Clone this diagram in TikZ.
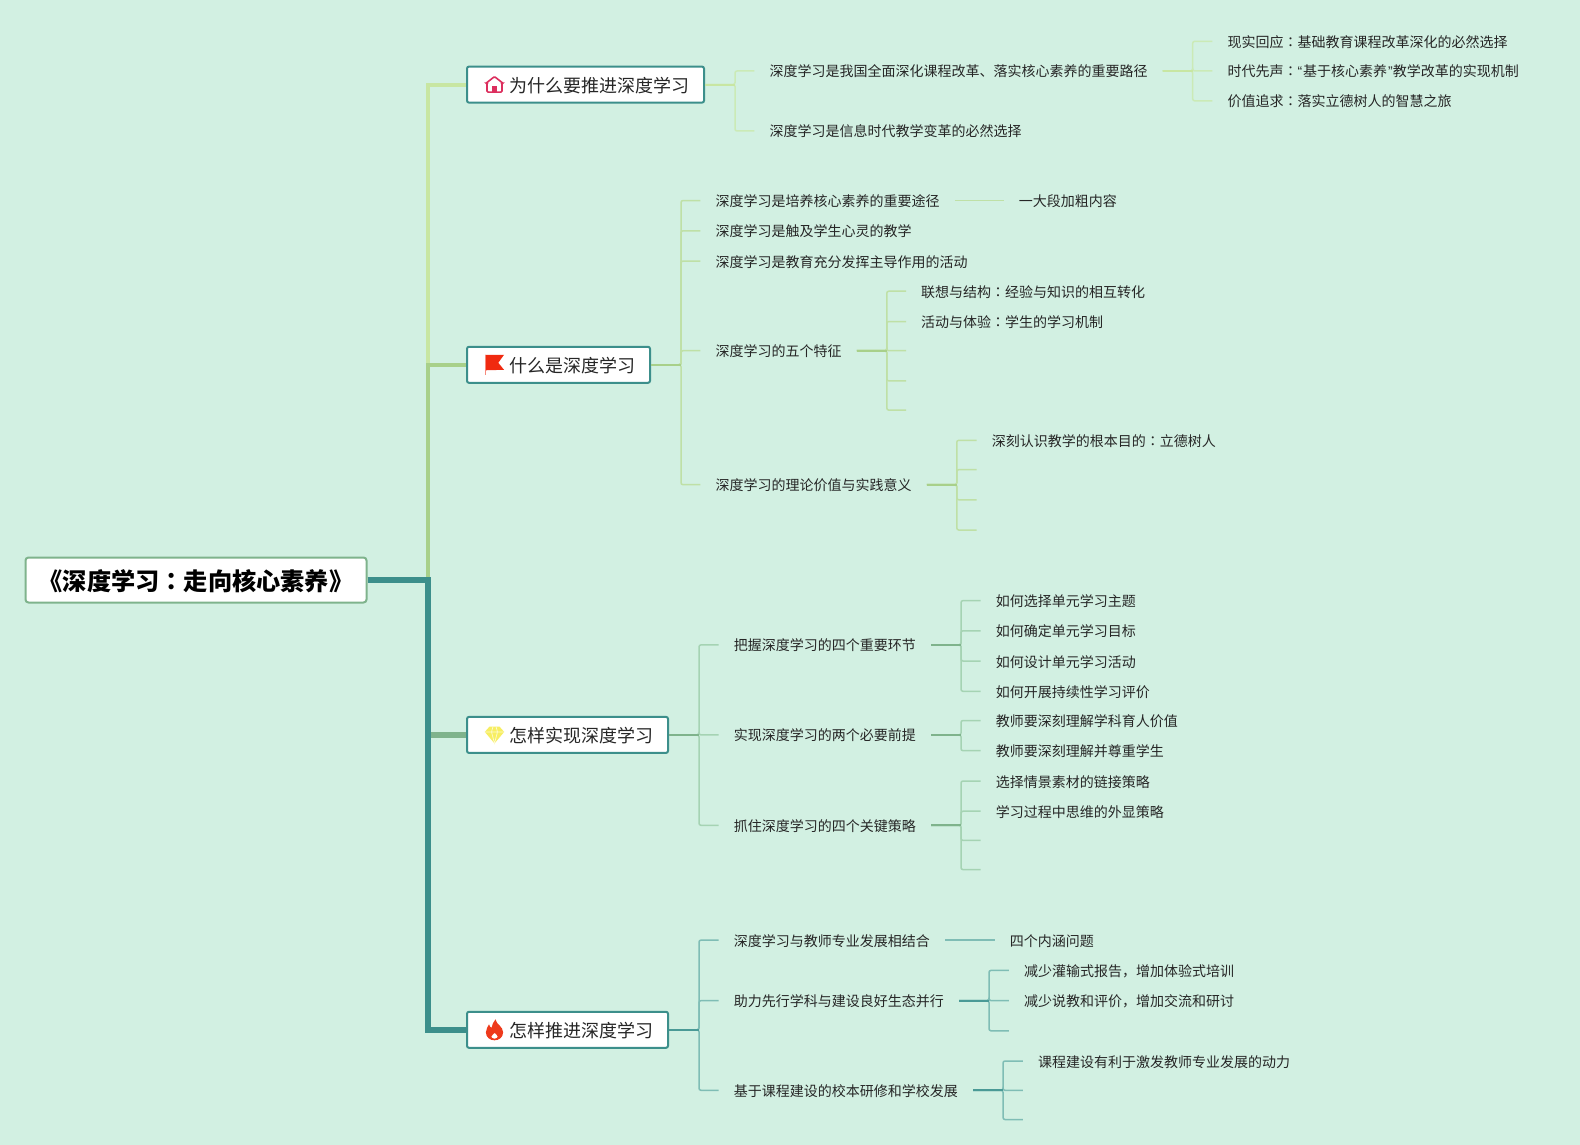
\documentclass[tikz,border=0pt]{standalone}
\usepackage{fontspec}
\setmainfont{Noto Sans CJK SC}
\newfontfamily\tcfont{Noto Sans CJK TC}
\newfontfamily\quotefont{Liberation Sans}
\newcommand{\cn}{{\tcfont ：}}
\newcommand{\openq}{{\quotefont “}\hspace{1pt}}
\newcommand{\closeq}{\hspace{1pt}{\quotefont ”}}

\definecolor{paper}{HTML}{D2F0E2}
\definecolor{ink}{HTML}{262626}
\definecolor{teal}{HTML}{3C8F8B}
\definecolor{whystem}{HTML}{C8E6A2}
\definecolor{whykid}{HTML}{CBEAB6}
\definecolor{whatstem}{HTML}{A8D08A}
\definecolor{whatkid}{HTML}{BFE0A6}
\definecolor{howstem}{HTML}{7FB38C}
\definecolor{howkid}{HTML}{A5D3B3}
\definecolor{pushstem}{HTML}{4A9A96}
\definecolor{pushkid}{HTML}{7FBDB5}
\definecolor{homepink}{HTML}{DC2F5E}
\definecolor{flagred}{HTML}{F02A10}
\definecolor{gemyellow}{HTML}{F7EE62}
\definecolor{fireorange}{HTML}{EE3A1C}

\tikzset{
    leaf/.style={anchor=west, text=ink, inner xsep=15pt, inner ysep=0pt,
        text height=13pt, text depth=1pt, font=\fontsize{14}{16}\selectfont},
    topic/.style={anchor=west, draw=teal, fill=white, line width=2pt, rounded corners=2pt,
        text=ink, inner xsep=14.5pt, inner ysep=0pt, minimum height=36pt,
        text height=16.5pt, text depth=0.5pt, font=\fontsize{18}{20}\selectfont,
        execute at begin node={\hspace*{28pt}}},
    book/.style={anchor=center, draw=howstem, fill=white, line width=2pt, rounded corners=3pt,
        text=black, minimum width=341pt, minimum height=45pt, inner sep=0pt,
        text height=21pt, text depth=1pt, font=\fontsize{24.2}{28}\selectfont\bfseries},
    trunk/.style={line width=#1, line join=miter},
    twig/.style={line width=1.5pt, rounded corners=2pt},
    stem/.style={line width=2pt}
}

\newcommand{\branch}[3]{
    \foreach \kid in {#2} {
        \draw [twig, #3kid] (#1.east) -- ++(30,0) |- (\kid.west);
        }
    \draw [stem, #3stem] (#1.east) -- ++(30,0);
}

\begin{document}
\begin{tikzpicture}[x=1pt, y=-1pt]
    \useasboundingbox [fill=paper] (0, 0) rectangle (1580, 1145);

    \node [book] (root) at (196, 580) {《深度学习\cn 走向核心素养》};

    \node [topic] (why) at (466, 84.6) {为什么要推进深度学习};
    \node [topic] (what) at (466, 364.8) {什么是深度学习};
    \node [topic] (how) at (466, 734.9) {怎样实现深度学习};
    \node [topic] (push) at (466, 1029.8) {怎样推进深度学习};

    \node [leaf] (why1) at (754.3, 71) {深度学习是我国全面深化课程改革、落实核心素养的重要路径};
    \node [leaf] (why2) at (754.3, 131) {深度学习是信息时代教学变革的必然选择};
    \node [leaf] (why11) at (1212.3, 41.3) {现实回应\cn 基础教育课程改革深化的必然选择};
    \node [leaf] (why12) at (1212.3, 71) {时代先声\cn\openq 基于核心素养\closeq 教学改革的实现机制};
    \node [leaf] (why13) at (1212.3, 100.8) {价值追求\cn 落实立德树人的智慧之旅};

    \node [leaf] (what1) at (700.4, 200.5) {深度学习是培养核心素养的重要途径};
    \node [leaf] (what2) at (700.4, 230.8) {深度学习是触及学生心灵的教学};
    \node [leaf] (what3) at (700.4, 261) {深度学习是教育充分发挥主导作用的活动};
    \node [leaf] (what4) at (700.4, 350.7) {深度学习的五个特征};
    \node [leaf] (what5) at (700.4, 484.7) {深度学习的理论价值与实践意义};
    \node [leaf] (what11) at (1003.7, 200.5) {一大段加粗内容};
    \node [leaf] (what41) at (906, 291.2) {联想与结构\cn 经验与知识的相互转化};
    \node [leaf] (what42) at (906, 321.5) {活动与体验\cn 学生的学习机制};
    \coordinate (what43) at (906, 350.7);
    \coordinate (what44) at (906, 380.9);
    \coordinate (what45) at (906, 410.1);
    \node [leaf] (what51) at (976.6, 440.3) {深刻认识教学的根本目的\cn 立德树人};
    \coordinate (what52) at (976.6, 469.6);
    \coordinate (what53) at (976.6, 499.8);
    \coordinate (what54) at (976.6, 530);

    \node [leaf] (how1) at (718.6, 644.9) {把握深度学习的四个重要环节};
    \node [leaf] (how2) at (718.6, 734.9) {实现深度学习的两个必要前提};
    \node [leaf] (how3) at (718.6, 825.3) {抓住深度学习的四个关键策略};
    \node [leaf] (how11) at (980.6, 600.6) {如何选择单元学习主题};
    \node [leaf] (how12) at (980.6, 630.8) {如何确定单元学习目标};
    \node [leaf] (how13) at (980.6, 661) {如何设计单元学习活动};
    \node [leaf] (how14) at (980.6, 691.3) {如何开展持续性学习评价};
    \node [leaf] (how21) at (980.6, 720.5) {教师要深刻理解学科育人价值};
    \node [leaf] (how22) at (980.6, 750.7) {教师要深刻理解并尊重学生};
    \node [leaf] (how31) at (980.6, 781) {选择情景素材的链接策略};
    \node [leaf] (how32) at (980.6, 811.2) {学习过程中思维的外显策略};
    \coordinate (how33) at (980.6, 840.4);
    \coordinate (how34) at (980.6, 869.6);

    \node [leaf] (push1) at (718.6, 940.1) {深度学习与教师专业发展相结合};
    \node [leaf] (push2) at (718.6, 1000.6) {助力先行学科与建设良好生态并行};
    \node [leaf] (push3) at (718.6, 1090.3) {基于课程建设的校本研修和学校发展};
    \node [leaf] (push11) at (994.7, 940.1) {四个内涵问题};
    \node [leaf] (push21) at (1008.8, 970.4) {减少灌输式报告，增加体验式培训};
    \node [leaf] (push22) at (1008.8, 1000.6) {减少说教和评价，增加交流和研讨};
    \coordinate (push23) at (1008.8, 1030.8);
    \node [leaf] (push31) at (1022.9, 1061) {课程建设有利于激发教师专业发展的动力};
    \coordinate (push32) at (1022.9, 1090.3);
    \coordinate (push33) at (1022.9, 1119.5);

    \draw [trunk=4pt, whystem] (root.east) -- ++(60, 0) |- (why.west);
    \draw [trunk=4pt, whatstem] (root.east) -- ++(60, 0) |- (what.west);
    \draw [trunk=5.5pt, howstem] (root.east) -- ++(60, 0) |- (how.west);
    \draw [trunk=6pt, teal] (root.east) -- ++(60, 0) |- (push.west);

    \branch{why}{why1, why2}{why}
    \branch{why1}{why11, why12, why13}{why}
    \branch{what}{what1, what2, what3, what4, what5}{what}
    \branch{what4}{what41, what42, what43, what44, what45}{what}
    \branch{what5}{what51, what52, what53, what54}{what}
    \branch{how}{how1, how2, how3}{how}
    \branch{how1}{how11, how12, how13, how14}{how}
    \branch{how2}{how21, how22}{how}
    \branch{how3}{how31, how32, how33, how34}{how}
    \branch{push}{push1, push2, push3}{push}
    \branch{push2}{push21, push22, push23}{push}
    \branch{push3}{push31, push32, push33}{push}

    \draw [twig, whatkid] (what1) -- (what11);
    \draw [twig, pushkid] (push1) -- (push11);

    \begin{scope}[shift={(why.west)}, xshift=28.5pt]
        \draw [line width=1.6pt, draw=homepink, rounded corners=1pt, fill=white]
            (-7.5, 7.5) -- (-7.5, -1.5) -- (-8.3, -1.5) -- (0, -8) -- (8.3, -1.5) -- (7.5, -1.5) -- (7.5, 7.5) -- cycle;
        \fill [homepink] (-2.5, 8) rectangle (2.5, 1.5);
    \end{scope}

    \begin{scope}[shift={(what.west)}, xshift=28.5pt]
        \fill [flagred] (-9.5, -10) -- (9.5, -10) -- (3.8, -2) -- (9.5, 5) -- (-9.5, 5.5) -- cycle;
        \draw [line width=1pt, flagred!55!white] (-9, -10) -- (-9, 10);
    \end{scope}

    \begin{scope}[shift={(how.west)}, xshift=28.5pt]
        \fill [gemyellow] (-5, -8.3) -- (5, -8.3) -- (9.7, -3) -- (0, 8.5) -- (-9.7, -3) -- cycle;
        \draw [white!70!gemyellow, line width=0.7pt] (-9.7, -3) -- (9.7, -3) (-3, -3) -- (0, 8.5) -- (3, -3)
            (-3, -3) -- (-1.5, -8.3) (3, -3) -- (1.5, -8.3);
    \end{scope}

    \begin{scope}[shift={(push.west)}, xshift=28.5pt]
        \fill [fireorange, even odd rule] (1, -10.5) .. controls (1.5, -5.5) and (8.6, -3.5) .. (8.6, 2.5)
            .. controls (8.6, 7.5) and (4.5, 10.5) .. (0, 10.5)
            .. controls (-4.5, 10.5) and (-8.6, 7.5) .. (-8.6, 2.5)
            .. controls (-8.6, -1) and (-6.5, -3) .. (-5.5, -5.5)
            .. controls (-4.5, -3) and (-4, -2.5) .. (-3, -2)
            .. controls (-2.5, -5) and (-1, -8) .. (1, -10.5) -- cycle
            (0, 3) .. controls (1.5, 4.5) and (3.2, 5.5) .. (3.2, 7)
            .. controls (3.2, 8.2) and (1.5, 8.8) .. (0, 8.8)
            .. controls (-1.5, 8.8) and (-3.2, 8.2) .. (-3.2, 7)
            .. controls (-3.2, 5.5) and (-1, 4.5) .. (0, 3) -- cycle;
    \end{scope}
\end{tikzpicture}
\end{document}
